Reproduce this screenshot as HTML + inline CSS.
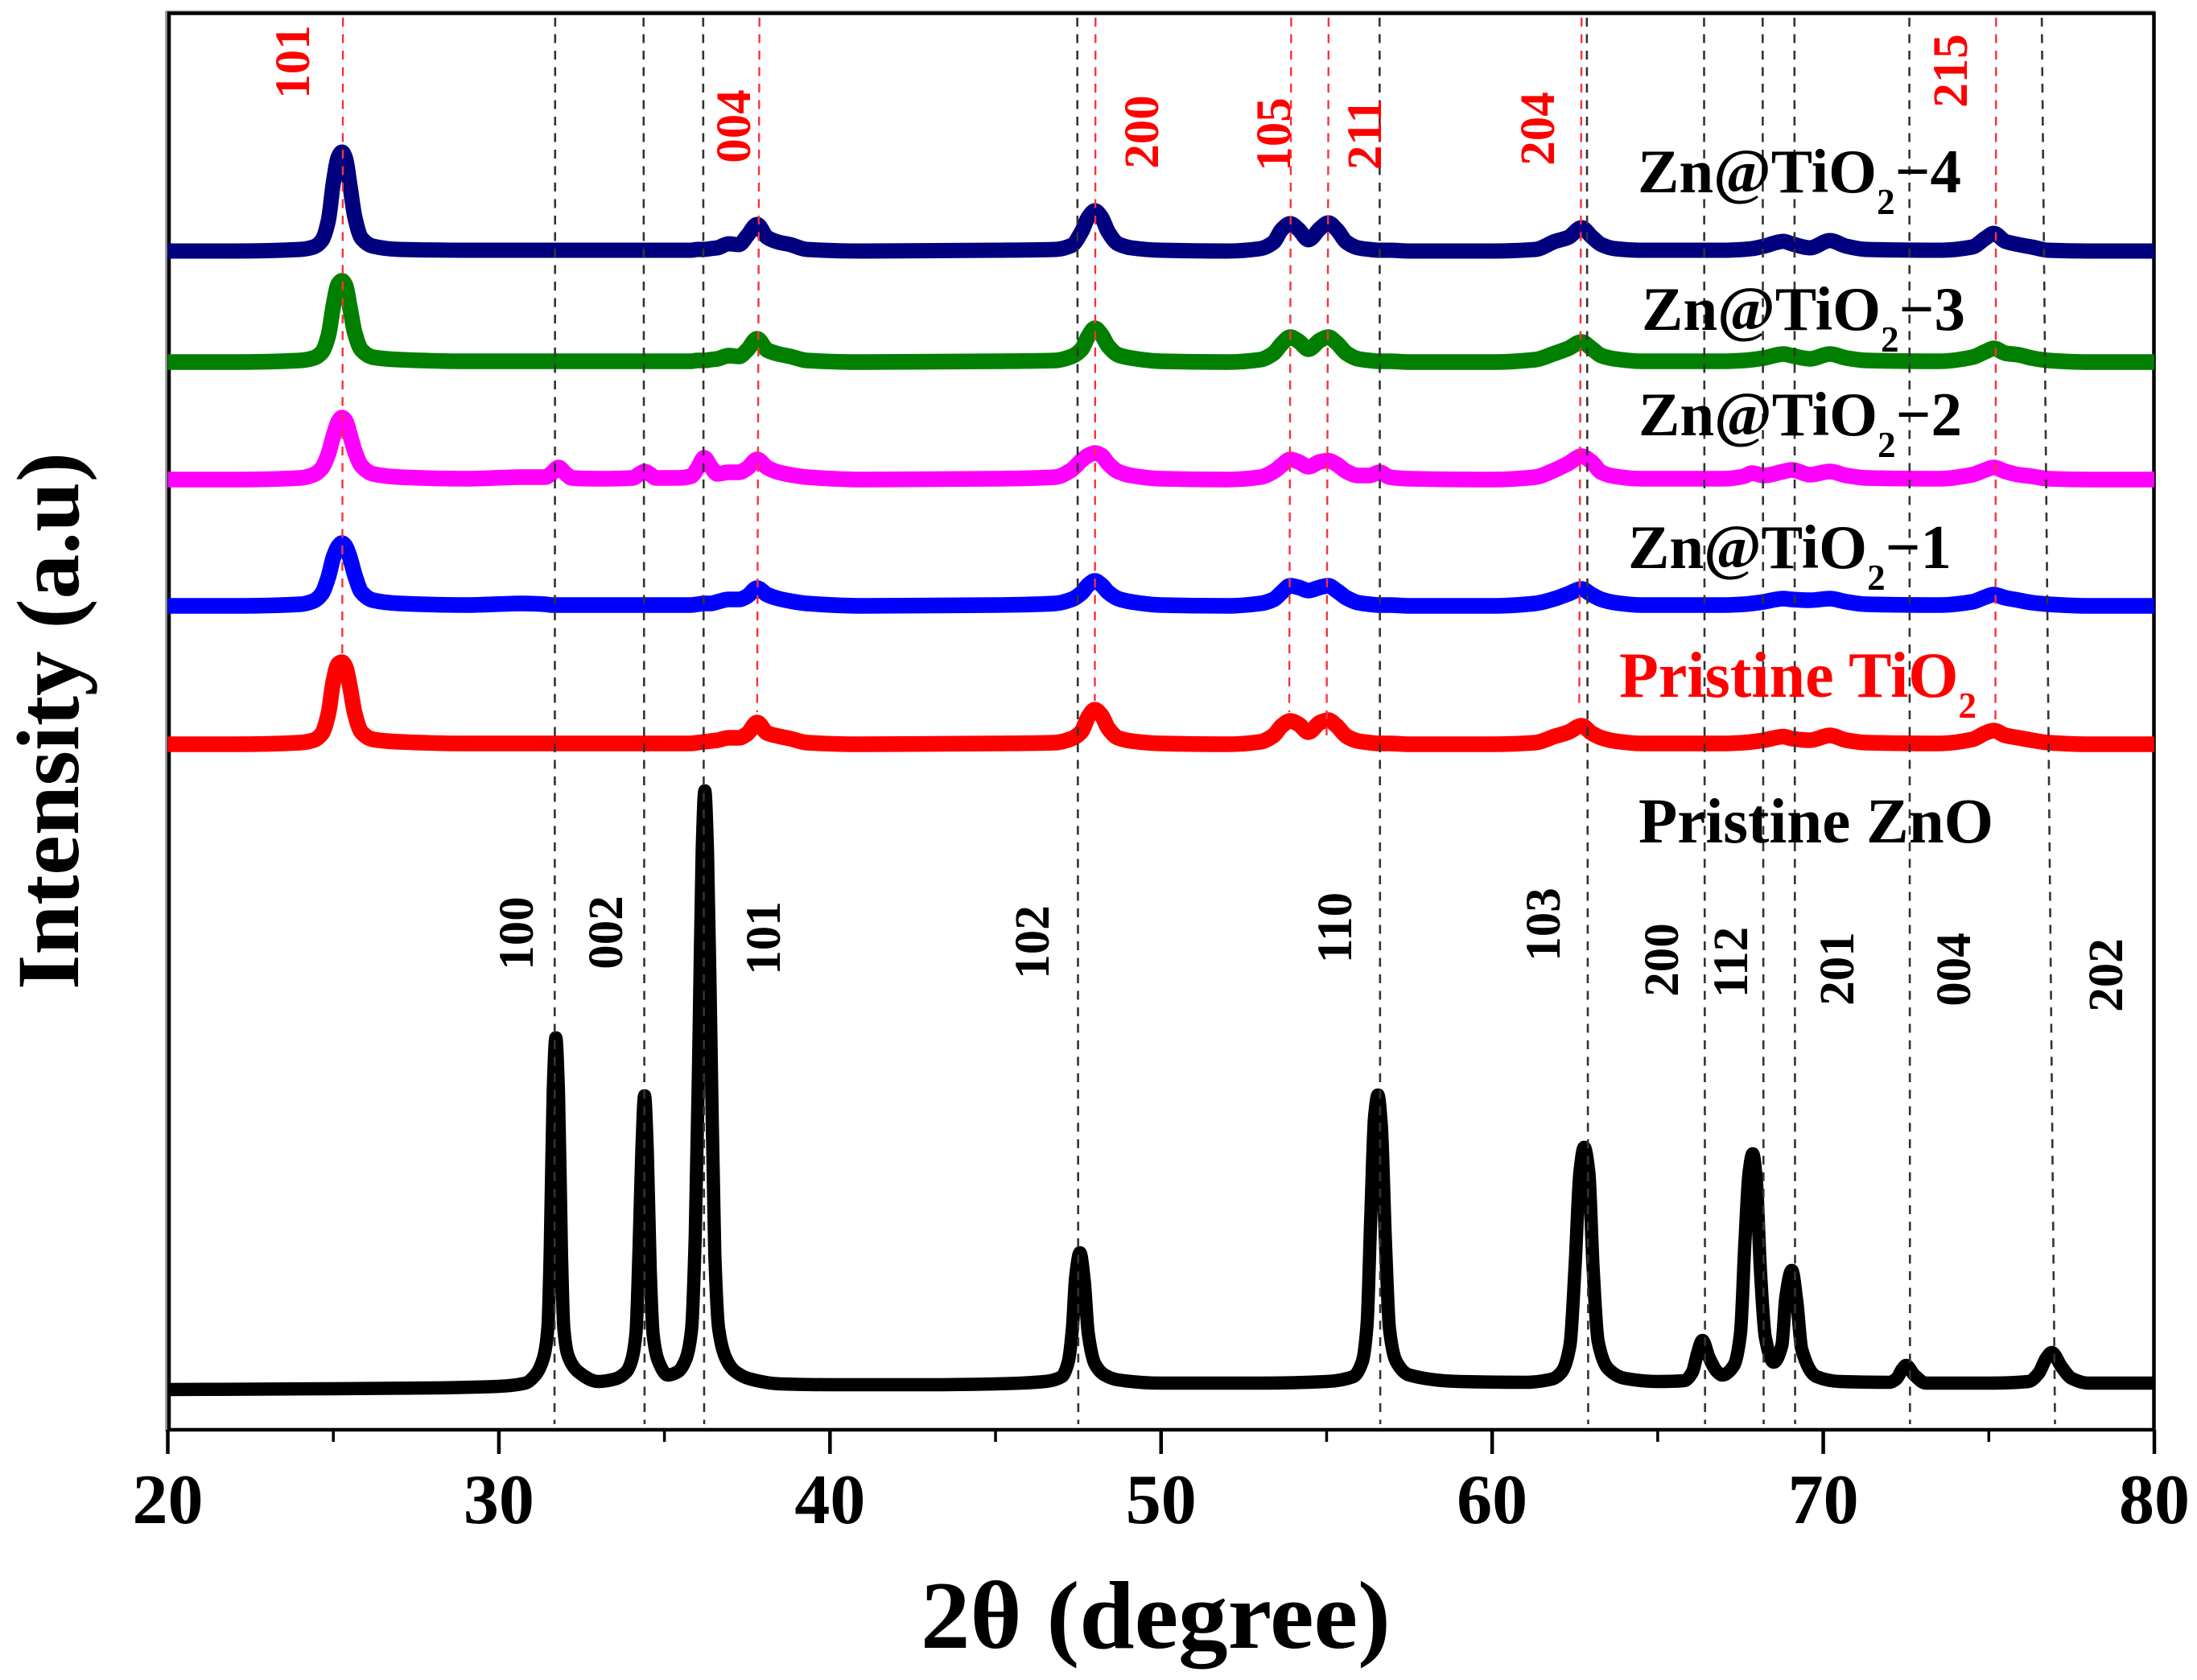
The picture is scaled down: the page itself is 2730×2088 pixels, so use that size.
<!DOCTYPE html>
<html lang="en">
<head>
<meta charset="utf-8">
<title>XRD patterns of ZnO, TiO2 and Zn@TiO2 samples</title>
<style>
html,body{margin:0;padding:0;background:#fff;}
svg{display:block;}
text{font-family:"Liberation Serif",serif;font-weight:bold;}
.hkl{font-size:61px;}
.lab{font-size:77px;}
</style>
</head>
<body>
<svg id="chart" xmlns="http://www.w3.org/2000/svg" width="2730" height="2088" viewBox="0 0 2730 2088">
  <rect x="0" y="0" width="2730" height="2088" fill="#fff"/>
  <line x1="206.5" y1="14" x2="206.5" y2="1779" stroke="#a0a0a0" stroke-width="3"/>
  <line x1="206" y1="13.6" x2="2678" y2="13.6" stroke="#b0b0b0" stroke-width="1.6"/>
  <rect x="210" y="16.5" width="2466.5" height="1760.5" fill="none" stroke="#000" stroke-width="4.5"/>
  <g id="ticks"></g>
  <g id="tickLabels"></g>
  <g id="series"></g>
  <g id="refs"></g>

  <text x="1436" y="2048" text-anchor="middle" font-size="120" textLength="584" lengthAdjust="spacingAndGlyphs">2θ (degree)</text>
  <text transform="translate(97,896) rotate(-90)" text-anchor="middle" font-size="110" textLength="668" lengthAdjust="spacingAndGlyphs">Intensity (a.u)</text>

  <text class="lab" x="2035" y="239">Zn@TiO<tspan font-size="45" dy="27">2</tspan><tspan dy="-27">−4</tspan></text>
  <text class="lab" x="2040" y="410">Zn@TiO<tspan font-size="45" dy="27">2</tspan><tspan dy="-27">−3</tspan></text>
  <text class="lab" x="2036" y="541">Zn@TiO<tspan font-size="45" dy="27">2</tspan><tspan dy="-27">−2</tspan></text>
  <text class="lab" x="2023" y="706">Zn@TiO<tspan font-size="45" dy="27">2</tspan><tspan dy="-27">−1</tspan></text>
  <text class="lab" x="2012" y="866" fill="#ff0000" style="font-size:80px">Pristine TiO<tspan font-size="45" dy="26">2</tspan></text>
  <text class="lab" x="2036" y="1047" style="font-size:79px">Pristine ZnO</text>

  <g fill="#ff0000">
    <text class="hkl" text-anchor="middle" transform="translate(384,77) rotate(-90)">101</text>
    <text class="hkl" text-anchor="middle" transform="translate(932,157) rotate(-90)">004</text>
    <text class="hkl" text-anchor="middle" transform="translate(1439,164) rotate(-90)">200</text>
    <text class="hkl" text-anchor="middle" transform="translate(1603,167) rotate(-90)">105</text>
    <text class="hkl" text-anchor="middle" transform="translate(1716,167) rotate(-90)">211</text>
    <text class="hkl" text-anchor="middle" transform="translate(1931,160) rotate(-90)">204</text>
    <text class="hkl" text-anchor="middle" transform="translate(2444,88) rotate(-90)">215</text>
  </g>
  <g fill="#000">
    <text class="hkl" text-anchor="middle" transform="translate(662,1160) rotate(-90)">100</text>
    <text class="hkl" text-anchor="middle" transform="translate(773,1159) rotate(-90)">002</text>
    <text class="hkl" text-anchor="middle" transform="translate(969,1166) rotate(-90)">101</text>
    <text class="hkl" text-anchor="middle" transform="translate(1303,1171) rotate(-90)">102</text>
    <text class="hkl" text-anchor="middle" transform="translate(1679,1153) rotate(-90)">110</text>
    <text class="hkl" text-anchor="middle" transform="translate(1938,1149) rotate(-90)">103</text>
    <text class="hkl" text-anchor="middle" transform="translate(2085,1193) rotate(-90)">200</text>
    <text class="hkl" text-anchor="middle" transform="translate(2171,1196) rotate(-90)">112</text>
    <text class="hkl" text-anchor="middle" transform="translate(2303,1204) rotate(-90)">201</text>
    <text class="hkl" text-anchor="middle" transform="translate(2448,1205) rotate(-90)">004</text>
    <text class="hkl" text-anchor="middle" transform="translate(2637,1212) rotate(-90)">202</text>
  </g>
</svg>
<script>
// Axis domains
const thetaDomain = [20, 80];
const intensityDomain = [0, 1761];

// Tick values
const majorTicks = [20, 30, 40, 50, 60, 70, 80];
const minorTicks = [25, 35, 45, 55, 65, 75];
const tickLabels = ["20", "30", "40", "50", "60", "70", "80"];

// ZnO reference lines (2θ at top and bottom of their slightly slanted drawing)
const znoRefTop = [31.7, 34.37, 36.17, 47.47, 56.6, 62.86, 66.4, 68.17, 69.13, 72.6, 76.6];
const znoRefBottom = [31.68, 34.4, 36.2, 47.5, 56.62, 62.9, 66.43, 68.2, 69.15, 72.62, 77.0];

// TiO2 reference lines (2θ at top and bottom, intensity where they stop)
const tio2RefTop = [25.29, 37.87, 48.02, 53.93, 55.06, 62.7, 75.22];
const tio2RefBottom = [25.27, 37.8, 48.0, 53.87, 55.0, 62.63, 75.2];
const tio2RefEnd = [964, 892, 906, 892, 863, 897, 877];

// Pristine ZnO trace
const znoTheta = [20,25,28,30,30.8,31.1,31.35,31.48,31.55,31.64,31.72,31.8,31.89,31.96,32.09,32.4,33,33.5,33.85,34,34.14,34.23,34.32,34.4,34.48,34.57,34.66,34.82,35.1,35.4,35.65,35.82,35.93,36.05,36.14,36.22,36.3,36.41,36.52,36.64,36.9,37.15,37.6,38.5,40,43,45,46.5,47,47.2,47.32,47.42,47.55,47.68,47.8,48,48.3,48.7,50,53,55,55.8,56.08,56.22,56.33,56.45,56.55,56.65,56.78,56.9,57.1,57.5,59,61,61.8,62.1,62.35,62.5,62.65,62.78,62.92,63.05,63.2,63.5,64,65,65.8,66.05,66.2,66.35,66.55,66.8,66.95,67.3,67.5,67.63,67.76,67.87,67.98,68.1,68.25,68.5,68.75,68.87,69.05,69.2,69.35,69.8,70.5,72,72.2,72.4,72.5,72.75,73.1,75,76.2,76.5,76.75,76.9,77.2,77.5,78,80];
const znoIntensity = [50,51,52,54,58,68,90,127,221,420,487,420,221,127,92,72,60,63,72,85,120,220,350,415,350,200,118,85,68,72,88,125,240,500,720,794,720,470,220,125,85,72,63,57,56,56,57,60,66,85,125,190,220,185,120,82,68,62,58,58,60,66,85,130,260,390,416,380,230,125,85,68,60,59,63,72,105,200,320,351,320,200,110,76,64,60,61,72,95,111,90,72,68,80,120,230,320,343,310,200,115,84,105,165,198,160,100,66,60,59,63,76,80,68,58,58,60,70,90,96,78,64,58,58];

// TiO2-family traces share one 2θ grid; values are heights above each trace's stacking offset
const tio2Theta = [20,22,24,24.4,24.65,24.85,25,25.15,25.26,25.37,
 25.5,25.65,25.85,26.2,27,29,30.7,31.4,31.6,31.8,
 32,32.2,33,34.05,34.25,34.4,34.55,34.75,35.4,35.8,
 36,36.2,36.4,36.6,36.94,37.25,37.5,37.8,38.1,38.45,
 38.8,39.3,41,45,46.8,47.3,47.6,47.8,48,48.2,
 48.4,48.7,49.1,50,52,53,53.4,53.65,53.9,54.15,
 54.45,54.8,55.05,55.3,55.6,55.95,56.3,56.6,56.9,57.5,
 60,61.3,61.9,62.3,62.7,63,63.3,63.7,64.5,67,
 67.6,67.85,68.2,68.8,69.05,69.6,70.2,70.7,71.3,73.5,
 74.5,74.9,75.15,75.5,75.9,76.3,76.8,78,80];
const sample4Intensity = [0,0,2,5,13,38,85,117,123,115,
 82,42,16,6,2,1,1,1,1,1,
 1,1,1,1,1,1,1,1,1,1,
 2,2,3,4,9,8,19,33,17,11,
 8,2,0,1,2,7,24,42,50,42,
 24,9,4,1,0,3,11,27,34,27,
 14,28,35,27,11,4,2,1,1,0,
 0,2,12,17,29,18,8,3,1,1,
 2,3,6,12,9,4,13,6,2,1,
 5,16,22,12,8,5,1,0,0];
const sample3Intensity = [0,0,2,5,12,33,70,97,101,95,
 68,36,15,6,3,1,1,1,1,1,
 1,1,1,1,1,1,1,1,1,1,
 2,2,3,4,8,7,15,29,15,10,
 7,2,0,1,2,7,16,32,42,34,
 20,9,5,1,0,3,11,23,31,26,
 16,27,31,24,11,4,2,1,1,0,
 0,3,11,17,25,17,8,4,1,1,
 2,3,5,10,8,4,10,5,2,1,
 6,13,17,11,9,5,2,0,0];
const sample2Intensity = [0,0,2,6,14,32,54,72,77,73,
 56,35,17,7,3,1,3,3,8,15,
 8,2,1,2,7,10,7,2,2,4,
 14,27,16,7,9,9,14,25,15,9,
 6,3,0,1,3,12,24,30,33,30,
 20,10,5,1,0,3,10,18,25,22,
 16,22,23.5,19,10,5,5,9,3,1,
 0,3,12,20,29,22,9,4,1,1,
 4,8,5,10,12,6,10,5,2,1,
 6,12,15,10,6,4,1,0,0];
const sample1Intensity = [0,0,2,6,15,36,60,74,78,74,
 60,38,17,7,3,1,3,2,1,1,
 1,1,1,1,1,1,1,1,1,1,
 2,3,3,5,8,8,12,22,14,9,
 6,3,0,1,3,8,16,26,31,26,
 17,9,5,1,0,3,8,17,25,23,
 19,23,25,19,10,4,2,1,1,0,
 0,3,9,15,21,14,8,4,1,1,
 2,3,5,9,8,7,9,5,2,1,
 5,11,14,10,7,4,2,0,0];
const pristineTio2Intensity = [0,0,2,5,13,38,78,100,102,96,
 72,38,15,6,3,1,1,1,1,1,
 1,1,1,1,1,1,1,1,1,1,
 2,3,4,5,8,8,13,27,14,10,
 7,2,0,1,2,7,16,34,43,36,
 20,8,4,1,0,3,11,23,29,25,
 15,27,30,23,10,4,2,1,1,0,
 0,2,10,15,23,14,8,4,1,1,
 2,3,5,9.5,7,5,11,5,2,1,
 6,14,17,11,8,5,2,0,0];

// Stacking offsets of the traces (intensity units)
const offsetSample4 = 1465;
const offsetSample3 = 1327;
const offsetSample2 = 1181;
const offsetSample1 = 1024;
const offsetPristineTio2 = 852;

// Axis functions
function xScale(t){
  return 208.5 + (t - thetaDomain[0]) * (2677 - 208.5) / (thetaDomain[1] - thetaDomain[0]);
}
function yScale(v){
  return 1777 - (v - intensityDomain[0]) * (1777 - 16) / (intensityDomain[1] - intensityDomain[0]);
}

const NS = 'http://www.w3.org/2000/svg';

// Monotone cubic path through the points
function monotonePath(px, py){
  const n = px.length;
  const h = [], s = [], m = new Array(n).fill(0);
  for(let i = 0; i < n - 1; i++){
    h[i] = px[i+1] - px[i];
    s[i] = (py[i+1] - py[i]) / h[i];
  }
  m[0] = s[0];
  m[n-1] = s[n-2];
  for(let i = 1; i < n - 1; i++){
    if(s[i-1] * s[i] <= 0){
      m[i] = 0;
    } else {
      const w1 = 2 * h[i] + h[i-1];
      const w2 = h[i] + 2 * h[i-1];
      m[i] = (w1 + w2) / (w1 / s[i-1] + w2 / s[i]);
    }
  }
  let d = 'M' + px[0].toFixed(2) + ' ' + py[0].toFixed(2);
  for(let i = 0; i < n - 1; i++){
    const c1x = px[i] + h[i] / 3, c1y = py[i] + m[i] * h[i] / 3;
    const c2x = px[i+1] - h[i] / 3, c2y = py[i+1] - m[i+1] * h[i] / 3;
    d += 'C' + c1x.toFixed(2) + ' ' + c1y.toFixed(2) + ' ' + c2x.toFixed(2) + ' ' + c2y.toFixed(2) + ' ' + px[i+1].toFixed(2) + ' ' + py[i+1].toFixed(2);
  }
  return d;
}

function addTrace(name, thetas, values, offset, color, width){
  const path = document.createElementNS(NS, 'path');
  
  
  const px = thetas.map(xScale);
  const py = values.map(function(v){ return yScale(v + offset); });
  path.setAttribute('d', monotonePath(px, py));
  path.setAttribute('fill', 'none');
  path.setAttribute('stroke', color);
  path.setAttribute('stroke-width', width);
  path.setAttribute('stroke-linejoin', 'round');
  document.getElementById('series').appendChild(path);
}

addTrace('trace-pristine-zno', znoTheta, znoIntensity, 0, '#000000', 16.5);
addTrace('trace-pristine-tio2', tio2Theta, pristineTio2Intensity, offsetPristineTio2, '#ff0000', 19.5);
addTrace('trace-zn-tio2-1', tio2Theta, sample1Intensity, offsetSample1, '#0000ff', 19.5);
addTrace('trace-zn-tio2-2', tio2Theta, sample2Intensity, offsetSample2, '#ff00ff', 19.5);
addTrace('trace-zn-tio2-3', tio2Theta, sample3Intensity, offsetSample3, '#007f00', 19.5);
addTrace('trace-zn-tio2-4', tio2Theta, sample4Intensity, offsetSample4, '#00007f', 19);

// Ticks
majorTicks.forEach(function(t, i){
  const tick = document.createElementNS(NS, 'line');
  
  
  tick.setAttribute('x1', xScale(t));
  tick.setAttribute('x2', xScale(t));
  tick.setAttribute('y1', 1777);
  tick.setAttribute('y2', 1807);
  tick.setAttribute('stroke', '#000');
  tick.setAttribute('stroke-width', 4.5);
  document.getElementById('ticks').appendChild(tick);

  const label = document.createElementNS(NS, 'text');
  
  
  label.setAttribute('x', xScale(t));
  label.setAttribute('y', 1893);
  label.setAttribute('text-anchor', 'middle');
  label.setAttribute('font-size', 88);
  label.textContent = tickLabels[i];
  document.getElementById('tickLabels').appendChild(label);
});
minorTicks.forEach(function(t){
  const tick = document.createElementNS(NS, 'line');
  
  
  tick.setAttribute('x1', xScale(t));
  tick.setAttribute('x2', xScale(t));
  tick.setAttribute('y1', 1777);
  tick.setAttribute('y2', 1792);
  tick.setAttribute('stroke', '#000');
  tick.setAttribute('stroke-width', 3.5);
  document.getElementById('ticks').appendChild(tick);
});

// Reference lines
znoRefTop.forEach(function(t, i){
  const line = document.createElementNS(NS, 'line');
  
  
  line.setAttribute('x1', xScale(t));
  line.setAttribute('x2', xScale(znoRefBottom[i]));
  line.setAttribute('y1', yScale(1755));
  line.setAttribute('y2', yScale(7));
  line.setAttribute('stroke', '#333');
  line.setAttribute('stroke-width', 2.6);
  line.setAttribute('stroke-dasharray', '11 9.5');
  document.getElementById('refs').appendChild(line);
});
tio2RefTop.forEach(function(t, i){
  const line = document.createElementNS(NS, 'line');
  
  
  line.setAttribute('x1', xScale(t));
  line.setAttribute('x2', xScale(tio2RefBottom[i]));
  line.setAttribute('y1', yScale(1755));
  line.setAttribute('y2', yScale(tio2RefEnd[i]));
  line.setAttribute('stroke', '#f5333a');
  line.setAttribute('stroke-width', 2.4);
  line.setAttribute('stroke-dasharray', '11 9.5');
  document.getElementById('refs').appendChild(line);
});
</script>
</body>
</html>
